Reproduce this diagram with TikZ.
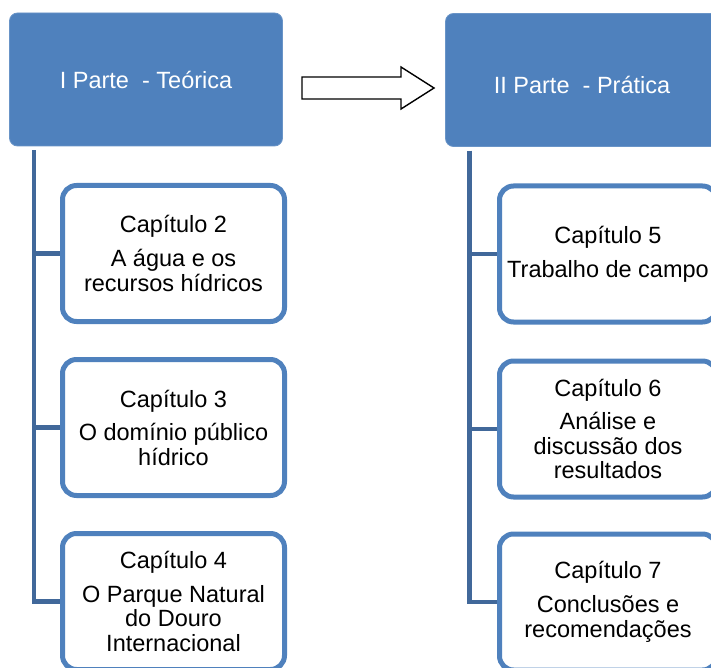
\documentclass[tikz,border=0pt]{standalone}
\usepackage{fontspec}
\setmainfont{Liberation Sans}
\usetikzlibrary{positioning}
\definecolor{azul}{HTML}{4F81BD}
\definecolor{azulesc}{HTML}{41689A}
\tikzset{
    parte/.style = {rectangle, rounded corners=8pt, fill=azul, draw=azul!85!white, line width=0.8pt, minimum width=273pt, minimum height=133pt, text=white, font=\fontsize{23.5}{24.5}\selectfont},
    capnode/.style = {rectangle, rounded corners=14pt, line width=5pt, draw=azul, fill=white, minimum width=222pt, minimum height=136pt, align=center, inner sep=0pt, font=\fontsize{23.5}{24.5}\selectfont},
    capnoder/.style = {capnode, minimum width=217pt},
    edgeb/.style = {line width=4.5pt, draw=azulesc}, % branch
    seta/.style = {line width=1.4pt, draw=black, fill=white, line join=miter} % block arrow
}
\begin{document}
\begin{tikzpicture}[x=1pt, y=-1pt]
  \useasboundingbox (0,0) rectangle (711,668);
  % left part
  \node[parte] (hdrL) at (146,79.5) {I Parte\ \ - Teórica};
  \node[capnode] (c2) at (173.5,253.5) {Capítulo 2\\[9.5pt]A água e os\\recursos hídricos};
  \node[capnode] (c3) at (173.5,427.5) {Capítulo 3\\[9pt]O domínio público\\hídrico};
  \node[capnode] (c4) at (173.5,601.5) {Capítulo 4\\[9pt]O Parque Natural\\do Douro\\Internacional};
  % right part
  \node[parte] (hdrR) at (582,80) {\raisebox{-14pt}[0pt][0pt]{II Parte\ \ - Prática}};
  \node[capnoder] (c5) at (608,254) {Capítulo 5\\[9.5pt]Trabalho de campo};
  \node[capnoder] (c6) at (608,429) {Capítulo 6\\[9pt]Análise e\\discussão dos\\resultados};
  \node[capnoder] (c7) at (608,602) {Capítulo 7\\[9.5pt]Conclusões e\\recomendações};
  \coordinate (spL) at ([xshift=25pt,yshift=-4pt]hdrL.south west);
  \coordinate (spR) at ([xshift=24.5pt,yshift=-4pt]hdrR.south west);
  \foreach \c in {c2,c3,c4}
    \draw[edgeb] (spL) |- (\c.west);
  \foreach \c in {c5,c6,c7}
    \draw[edgeb] (spR) |- (\c.west);
  % arrow between the parts
  \draw[seta] (302,77) -- (401,77) -- (401,67) -- (434,88) -- (401,109) -- (401,99) -- (302,99) -- cycle;
\end{tikzpicture}
\end{document}
